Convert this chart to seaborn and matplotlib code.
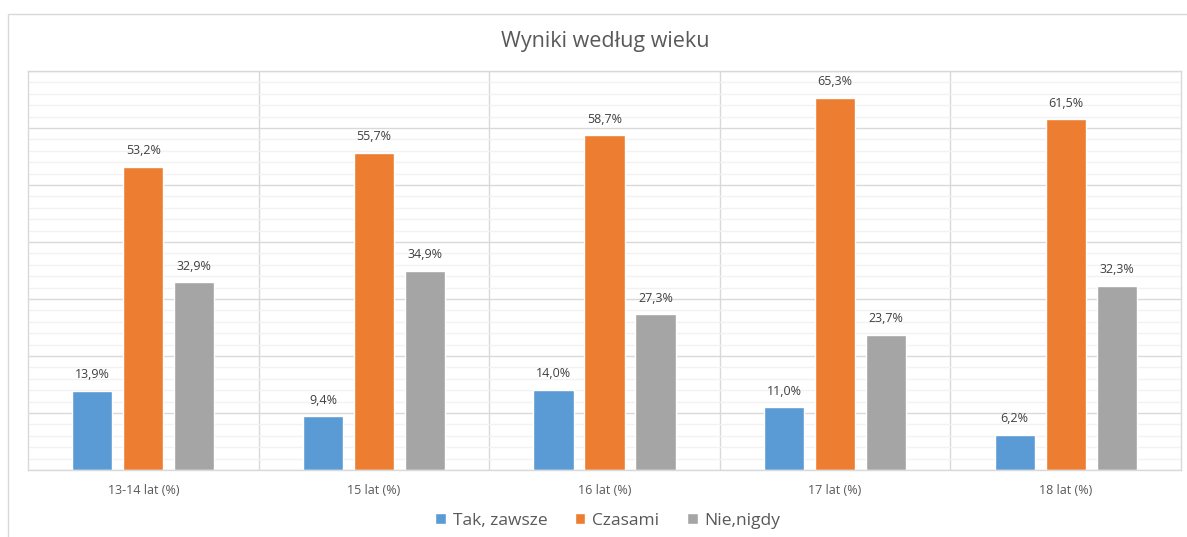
import pandas as pd
import numpy as np
import matplotlib
matplotlib.use('Agg')
import matplotlib.pyplot as plt
import seaborn as sns
from matplotlib.patches import Rectangle

# Data
groups = ['13-14 lat (%)', '15 lat (%)', '16 lat (%)', '17 lat (%)', '18 lat (%)']
answers = ['Tak, zawsze', 'Czasami', 'Nie,nigdy']
tak = [13.9, 9.4, 14.0, 11.0, 6.2]
czasami = [53.2, 55.7, 58.7, 65.3, 61.5]
nie = [32.9, 34.9, 27.3, 23.7, 32.3]
colors = ['#5B9BD5', '#ED7D31', '#A5A5A5']

df = pd.DataFrame({
    'grupa': groups * 3,
    'odp': [answers[0]] * 5 + [answers[1]] * 5 + [answers[2]] * 5,
    'val': tak + czasami + nie,
})

sns.set_theme(style='white')
plt.rcParams['font.family'] = ['Open Sans', 'DejaVu Sans']
txt = '#595959'

fig = plt.figure(figsize=(11.87, 5.37), dpi=100)
ax = fig.add_axes([28 / 1187, 1 - 470 / 537, 1153 / 1187, 399 / 537])

sns.barplot(data=df, x='grupa', y='val', hue='odp', palette=colors,
            width=0.663, gap=0.21, ax=ax, legend=True, saturation=1)

ax.set_ylim(0, 70)
ax.set_xlim(-0.5, 4.5)
ax.set_yticks(np.arange(0, 71, 10))
ax.set_yticks(np.arange(0, 71, 2), minor=True)
ax.yaxis.grid(True, which='minor', color='#F2F2F2', lw=1)
ax.yaxis.grid(True, which='major', color='#D9D9D9', lw=1)
ax.set_axisbelow(True)
for b in np.arange(0.5, 4, 1):
    ax.axvline(b, color='#D9D9D9', lw=1, zorder=0)
ax.set_yticklabels([])
ax.tick_params(axis='both', length=0)
ax.tick_params(axis='x', labelsize=9, labelcolor=txt, pad=10)
ax.set_xlabel('')
ax.set_ylabel('')
for s in ax.spines.values():
    s.set_color('#D9D9D9')
    s.set_linewidth(1)

for cont in ax.containers:
    ax.bar_label(cont, labels=[f'{v:.1f}%'.replace('.', ',') for v in cont.datavalues],
                 padding=7, fontsize=9, color='#404040')

handles, labels = ax.get_legend_handles_labels()
ax.get_legend().remove()
fig.legend(handles, labels, loc='center', bbox_to_anchor=(608 / 1187, 1 - 521 / 537), ncol=3,
           frameon=False, fontsize=12.5, labelcolor=txt, handlelength=0.6, handleheight=0.6,
           handletextpad=0.4, columnspacing=1.6)

fig.text(605 / 1187, 1 - 42 / 537, 'Wyniki według wieku', ha='center', va='center',
         fontsize=15.5, color=txt)

# outer chart border
fig.patches.append(Rectangle((8 / 1187, -0.05), 1.1, 1.05 - 14 / 537,
                             transform=fig.transFigure, fill=False,
                             edgecolor='#D9D9D9', lw=1))

fig.savefig('out.png', dpi=100)
